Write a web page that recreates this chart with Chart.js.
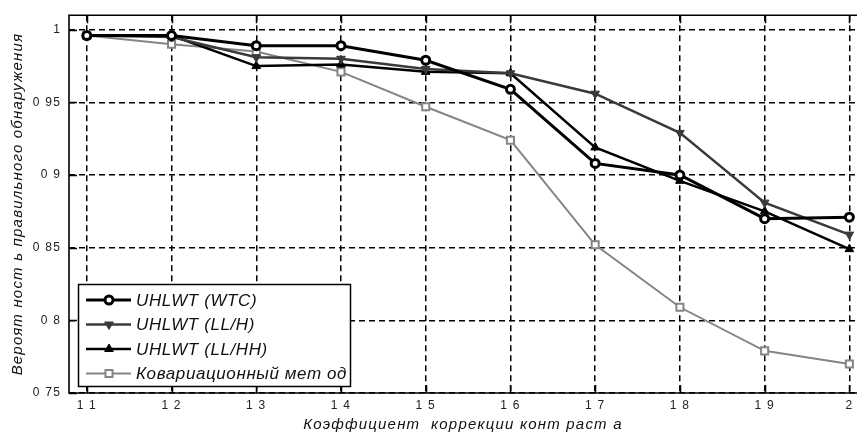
<!DOCTYPE html>
<html>
<head>
<meta charset="utf-8">
<script src="https://cdn.jsdelivr.net/npm/chart.js@4.4.1/dist/chart.umd.min.js"></script>
<style>
  html, body { margin: 0; padding: 0; background: #fff; }
  #wrap { width: 864px; height: 434px; position: relative; }
</style>
</head>
<body>
<div id="wrap"><canvas id="detectChart"></canvas></div>
<script>
// Contrast correction coefficient (x axis)
const coefs = [1.1, 1.2, 1.3, 1.4, 1.5, 1.6, 1.7, 1.8, 1.9, 2.0];
const coefLabels = ['1 1', '1 2', '1 3', '1 4', '1 5', '1 6', '1 7', '1 8', '1 9', '2'];

// Probability of correct detection
const wtc   = [0.996, 0.996, 0.989, 0.989, 0.979, 0.959, 0.908, 0.900, 0.870, 0.871];
const llH   = [0.996, 0.995, 0.981, 0.980, 0.973, 0.970, 0.956, 0.929, 0.881, 0.859];
const llHH  = [0.996, 0.996, 0.975, 0.976, 0.971, 0.970, 0.919, 0.896, 0.875, 0.849];
const covar = [0.996, 0.990, 0.985, 0.971, 0.947, 0.924, 0.852, 0.809, 0.779, 0.770];

const probTicks = [0.75, 0.8, 0.85, 0.9, 0.95, 1.0];
const probLabels = ['0 75', '0 8', '0 85', '0 9', '0 95', '1'];

const seriesNames = ['UHLWT (WTC)', 'UHLWT (LL/H)', 'UHLWT (LL/HH)', 'Ковариационный мет од'];

const FONT = '"Liberation Sans", Arial, sans-serif';

function toPoints(arr) {
    return arr.map((v, i) => ({ x: coefs[i], y: v }));
}

// wider letter spacing for all axis text
const spacingPlugin = {
    id: 'spacing',
    beforeDraw(chart) { chart.ctx.letterSpacing = '1.2px'; }
};

// Box around the plot, inward tick marks and legend inside the axes
const framePlugin = {
    id: 'frame',
    afterDraw(chart) {
        const ctx = chart.ctx;
        const a = chart.chartArea;
        const xs = chart.scales.x, ys = chart.scales.y;
        ctx.save();
        ctx.strokeStyle = '#000';
        ctx.lineWidth = 1.6;
        ctx.beginPath();
        ctx.moveTo(a.right, a.top); ctx.lineTo(a.left, a.top);
        ctx.lineTo(a.left, a.bottom); ctx.lineTo(a.right, a.bottom);
        ctx.stroke();

        ctx.lineWidth = 1.5;
        ctx.beginPath();
        coefs.forEach(v => {
            const px = Math.round(xs.getPixelForValue(v)) + 0.5;
            ctx.moveTo(px, a.bottom); ctx.lineTo(px, a.bottom - 8);
            ctx.moveTo(px, a.top); ctx.lineTo(px, a.top + 8);
        });
        probTicks.forEach(v => {
            const py = Math.round(ys.getPixelForValue(v)) + 0.5;
            ctx.moveTo(a.left, py); ctx.lineTo(a.left + 8, py);
        });
        ctx.stroke();

        // legend
        const bx = 78, by = 284, bw = 272, bh = 102;
        ctx.fillStyle = '#fff';
        ctx.fillRect(bx, by, bw, bh);
        ctx.lineWidth = 1.5;
        ctx.strokeRect(bx + 0.5, by + 0.5, bw, bh);
        ctx.font = 'italic 17px ' + FONT;
        ctx.letterSpacing = '0.6px';
        ctx.textBaseline = 'middle';
        chart.data.datasets.forEach((ds, i) => {
            const y = by + 16 + i * 24.5;
            ctx.strokeStyle = ds.borderColor;
            ctx.lineWidth = ds.borderWidth;
            ctx.beginPath();
            ctx.moveTo(86, y); ctx.lineTo(131, y);
            ctx.stroke();
            ctx.fillStyle = ds.pointBackgroundColor;
            ctx.strokeStyle = ds.pointBorderColor;
            ctx.lineWidth = ds.pointBorderWidth;
            Chart.helpers.drawPoint(ctx, {
                pointStyle: ds.pointStyle,
                rotation: ds.pointRotation || 0,
                radius: ds.pointRadius,
                borderWidth: ds.pointBorderWidth
            }, 109, y);
            ctx.fillStyle = '#111';
            ctx.fillText(ds.label, 136, y + 1);
        });
        ctx.restore();
    }
};

new Chart(document.getElementById('detectChart'), {
    type: 'line',
    data: {
        datasets: [
            {
                label: seriesNames[0], data: toPoints(wtc),
                borderColor: '#000', borderWidth: 3,
                pointStyle: 'circle', pointRadius: 4, pointBorderWidth: 3,
                pointBackgroundColor: '#fff', pointBorderColor: '#000'
            },
            {
                label: seriesNames[1], data: toPoints(llH),
                borderColor: '#3a3a3a', borderWidth: 2.5,
                pointStyle: 'triangle', pointRotation: 180, pointRadius: 5, pointBorderWidth: 1,
                pointBackgroundColor: '#3a3a3a', pointBorderColor: '#3a3a3a'
            },
            {
                label: seriesNames[2], data: toPoints(llHH),
                borderColor: '#000', borderWidth: 2.5,
                pointStyle: 'triangle', pointRadius: 5, pointBorderWidth: 1,
                pointBackgroundColor: '#000', pointBorderColor: '#000'
            },
            {
                label: seriesNames[3], data: toPoints(covar),
                borderColor: '#858585', borderWidth: 2,
                pointStyle: 'rect', pointRadius: 5, pointBorderWidth: 2,
                pointBackgroundColor: '#fff', pointBorderColor: '#858585'
            }
        ]
    },
    options: {
        responsive: true,
        maintainAspectRatio: false,
        animation: false,
        layout: { padding: { top: 15, left: 0, right: 0, bottom: 0 } },
        plugins: { legend: { display: false }, tooltip: { enabled: false } },
        elements: { line: { tension: 0 } },
        scales: {
            x: {
                type: 'linear', min: 1.079, max: 2.009,
                afterBuildTicks: s => { s.ticks = coefs.map(v => ({ value: v })); },
                afterFit: s => { s.height = 41; },
                ticks: {
                    padding: 5, color: '#222', autoSkip: false, maxRotation: 0,
                    font: { family: FONT, size: 12 },
                    callback: v => coefLabels[coefs.findIndex(c => Math.abs(c - v) < 1e-6)]
                },
                grid: { color: '#000', lineWidth: 1.5, drawTicks: false },
                border: { display: false, dash: [6, 4] },
                title: {
                    display: true, text: 'Коэффициент  коррекции конт раст а', color: '#111',
                    font: { family: FONT, size: 15, style: 'italic' },
                    padding: { top: 0, bottom: 0 }
                }
            },
            y: {
                min: 0.75, max: 1.01,
                afterBuildTicks: s => { s.ticks = probTicks.map(v => ({ value: v })); },
                afterFit: s => { s.width = 69; },
                ticks: {
                    padding: 8, color: '#222',
                    font: { family: FONT, size: 12 },
                    callback: v => probLabels[probTicks.findIndex(c => Math.abs(c - v) < 1e-6)]
                },
                grid: { color: '#000', lineWidth: 1.5, drawTicks: false },
                border: { display: false, dash: [6, 4] },
                title: {
                    display: true, text: 'Вероят ност ь правильного обнаружения', color: '#111',
                    font: { family: FONT, size: 15, style: 'italic' },
                    padding: { top: 9, bottom: 0 }
                }
            }
        }
    },
    plugins: [spacingPlugin, framePlugin]
});
</script>
</body>
</html>
